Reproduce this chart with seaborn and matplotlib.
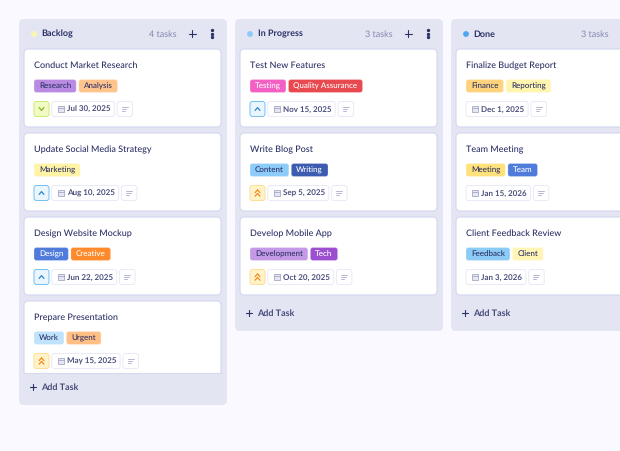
import matplotlib
matplotlib.use("Agg")
import matplotlib.pyplot as plt
from matplotlib.patches import FancyBboxPatch, Rectangle, Circle
import seaborn as sns

# board content
column_names = ["Backlog", "In Progress", "Done"]
column_dots = ["#FBF6B4", "#8CC8F8", "#4DA6F2"]
column_counts = ["4 tasks", "3 tasks", "3 tasks"]

backlog_titles = ["Conduct Market Research", "Update Social Media Strategy", "Design Website Mockup", "Prepare Presentation"]
backlog_tags = [["Research", "Analysis"], ["Marketing"], ["Design", "Creative"], ["Work", "Urgent"]]
backlog_priority = ["low", "medium", "medium", "high"]
backlog_dates = ["Jul 30, 2025", "Aug 10, 2025", "Jun 22, 2025", "May 15, 2025"]

progress_titles = ["Test New Features", "Write Blog Post", "Develop Mobile App"]
progress_tags = [["Testing", "Quality Assurance"], ["Content", "Writing"], ["Development", "Tech"]]
progress_priority = ["medium", "high", "high"]
progress_dates = ["Nov 15, 2025", "Sep 5, 2025", "Oct 20, 2025"]

done_titles = ["Finalize Budget Report", "Team Meeting", "Client Feedback Review"]
done_tags = [["Finance", "Reporting"], ["Meeting", "Team"], ["Feedback", "Client"]]
done_priority = [None, None, None]
done_dates = ["Dec 1, 2025", "Jan 15, 2026", "Jan 3, 2026"]

tag_colors = {
    "Research": "#B98BE3", "Analysis": "#FFC48C", "Marketing": "#FFF3A6",
    "Design": "#4F7BDB", "Creative": "#FF8A2B", "Work": "#BEE3FB", "Urgent": "#FFBF85",
    "Testing": "#F45FC4", "Quality Assurance": "#E8494F", "Content": "#8CCBFA",
    "Writing": "#3B5CB0", "Development": "#C49AE6", "Tech": "#9C4FD1",
    "Finance": "#FFD27C", "Reporting": "#FFF5AE", "Meeting": "#FFE27C", "Team": "#4F7BDB",
    "Feedback": "#8CCBF5", "Client": "#FFF5B4",
}
white_tags = ["Design", "Creative", "Testing", "Quality Assurance", "Writing", "Tech", "Team"]

priority_styles = {
    "low": ("#F2FBC4", "#CBEB74", "#7FB52A"),
    "medium": ("#EAF6FE", "#74C0F2", "#2F86C9"),
    "high": ("#FFF4C9", "#FFDD94", "#F58A1F"),
}

INK = "#2C3166"
MUTED = "#8287AC"
PANEL = "#E3E5F3"
EDGE = "#D6D9F0"
SOFT = "#E9EAF6"

sns.set_theme(style="white")
plt.rcParams["font.family"] = ["Lato", "DejaVu Sans"]
plt.rcParams["text.hinting"] = "no_hinting"
plt.rcParams["text.hinting_factor"] = 1

fig = plt.figure(figsize=(6.2, 4.51), dpi=100, facecolor="#F9F9FF")
ax = fig.add_axes([0, 0, 1, 1])
ax.set_xlim(0, 620)
ax.set_ylim(451, 0)
ax.patch.set_alpha(0)
ax.set_xticks([])
ax.set_yticks([])
sns.despine(ax=ax, left=True, bottom=True)
renderer = fig.canvas.get_renderer()


def box(x, y, w, h, face, edge="none", r=2.5, lw=0.7, z=2):
    p = FancyBboxPatch((x + r, y + r), w - 2 * r, h - 2 * r, boxstyle=f"round,pad={r}",
                       facecolor=face, edgecolor=edge, linewidth=lw, zorder=z)
    ax.add_patch(p)
    return p


def text_width(t):
    return t.get_window_extent(renderer).width


def plus(x, y, color, s=3.5):
    ax.plot([x - s, x + s], [y, y], color=color, lw=0.8, zorder=4)
    ax.plot([x, x], [y - s, y + s], color=color, lw=0.8, zorder=4)


def chevron(x, y, color, up=True):
    d = -1.4 if up else 1.4
    ax.plot([x - 2.4, x, x + 2.4], [y - d, y + d, y - d], color=color, lw=0.9, zorder=4)


def draw_priority(x, cy, level):
    face, edge, color = priority_styles[level]
    box(x, cy - 7.5, 15, 15, face, edge, z=3)
    if level == "low":
        chevron(x + 7.5, cy, color, up=False)
    elif level == "medium":
        chevron(x + 7.5, cy, color, up=True)
    else:
        chevron(x + 7.5, cy - 1.8, color, up=True)
        chevron(x + 7.5, cy + 1.8, color, up=True)


def draw_meta(x, cy, date):
    label = ax.text(x + 15, cy + 2.4, date, fontsize=5.9, color=INK, va="baseline", weight="bold", zorder=5,
                    alpha=0.85)
    w = text_width(label) + 19
    box(x, cy - 7.5, w, 15, "white", SOFT, z=3)
    # calendar icon
    ax.add_patch(Rectangle((x + 6, cy - 3.2), 6, 6.2, facecolor="#E6E7F3", edgecolor="#A4A8C6", lw=0.6, zorder=4))
    ax.plot([x + 6, x + 12], [cy - 1.2, cy - 1.2], color="#A4A8C6", lw=0.6, zorder=4)
    # notes button
    nx = x + w + 2.8
    box(nx, cy - 7.5, 15.5, 15, "white", SOFT, z=3)
    for dy, ln in [(-2, 6), (0, 4.5), (2, 3)]:
        ax.plot([nx + 4.7, nx + 4.7 + ln], [cy + dy, cy + dy], color="#B4B7D0", lw=0.7, zorder=4)


def draw_card(x, y, title, tags, priority, date, clip_bottom=None):
    card = box(x, y, 197, 78, "white", EDGE, r=4, lw=0.9, z=2)
    if clip_bottom is not None:
        card.set_clip_path(Rectangle((x - 2, y - 2), 202, clip_bottom - y + 2, transform=ax.transData))
        ax.plot([x, x + 197], [clip_bottom, clip_bottom], color=EDGE, lw=0.8, zorder=3)
    ax.text(x + 10, y + 19, title, fontsize=6.5, color=INK, va="baseline", weight="medium", zorder=5)
    tx = x + 10
    cy = y + 37
    for tag in tags:
        color = "white" if tag in white_tags else INK
        label = ax.text(tx + 5, cy + 2.3, tag, fontsize=5.6, color=color, va="baseline", weight="medium", zorder=5)
        w = text_width(label) + 10
        box(tx, cy - 6.5, w, 13, tag_colors[tag], "#FFFFFF40", r=2.5, z=3)
        tx += w + 2.5
    cy = y + 60
    mx = x + 10
    if priority:
        draw_priority(mx, cy, priority)
        mx += 17.7
    draw_meta(mx, cy, date)


board = [
    (backlog_titles, backlog_tags, backlog_priority, backlog_dates),
    (progress_titles, progress_tags, progress_priority, progress_dates),
    (done_titles, done_tags, done_priority, done_dates),
]

for c, (titles, tags, priorities, dates) in enumerate(board):
    left = 19 + 216 * c
    clipped = len(titles) > 3
    inner_bottom = 373 if clipped else 49 + 84 * len(titles) - 6
    bottom = inner_bottom + (32 if clipped else 36)
    box(left, 19, 208, bottom - 19, PANEL, "none", r=5, z=1)

    # header row
    ax.add_patch(Circle((left + 15, 34), 2.9, facecolor=column_dots[c], edgecolor="none", zorder=3))
    ax.text(left + 22.5, 36.6, column_names[c], fontsize=6.7, weight="bold", color=INK, va="baseline", zorder=5)
    ax.text(left + 158, 36.6, column_counts[c], fontsize=6.5, color=MUTED, ha="right", va="baseline", zorder=5)
    plus(left + 173, 33.5, INK)
    ax.plot([left + 192.5] * 3, [30, 33.5, 37], "o", color=INK, ms=1.4, zorder=4)

    for i, title in enumerate(titles):
        y = 49 + 84 * i
        draw_card(left + 5, y, title, tags[i], priorities[i], dates[i],
                  clip_bottom=inner_bottom if y + 78 > inner_bottom else None)

    # add task row
    add_y = inner_bottom + (14 if clipped else 18)
    plus(left + 14, add_y, INK, s=3.2)
    ax.text(left + 22, add_y + 2.6, "Add Task", fontsize=6.6, color="#474B78", weight="bold", va="baseline", zorder=5)

fig.savefig("out.png", dpi=100, facecolor=fig.get_facecolor())
